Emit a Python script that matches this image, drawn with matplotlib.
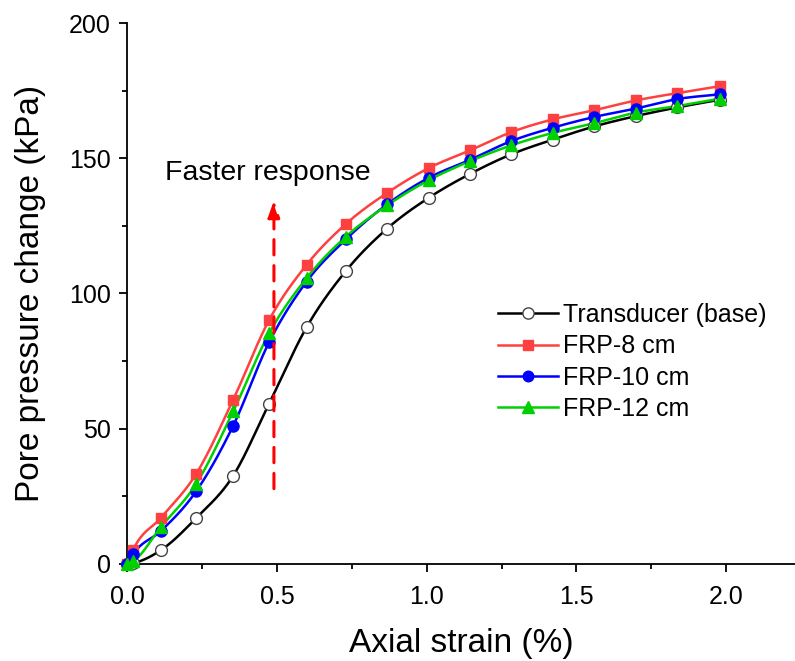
import matplotlib
matplotlib.use("Agg")
import matplotlib.pyplot as plt
from matplotlib.ticker import MultipleLocator
import numpy as np

plt.rcParams["font.family"] = ["Liberation Sans", "DejaVu Sans"]

# Axial strain (%) at each measured point
strain = [0.0, 0.02, 0.113, 0.23, 0.354, 0.474, 0.599, 0.73, 0.868, 1.007,
          1.146, 1.283, 1.421, 1.56, 1.698, 1.836, 1.98]

# Pore pressure change (kPa)
transducer = [0.0, 0.3, 5.1, 16.9, 32.6, 59.3, 87.5, 108.3, 124.0, 135.4,
              144.3, 151.5, 156.9, 161.8, 165.6, 168.8, 171.7]
frp_8 = [0.0, 5.2, 17.1, 33.2, 60.7, 90.2, 110.6, 125.7, 137.2, 146.4,
         153.0, 159.7, 164.4, 167.8, 171.4, 174.1, 176.7]
frp_10 = [0.0, 3.6, 12.2, 26.8, 51.1, 82.0, 104.4, 120.0, 133.0, 142.8,
          149.5, 156.4, 161.3, 165.3, 168.4, 171.9, 173.7]
frp_12 = [0.0, 1.0, 13.7, 29.5, 56.4, 85.3, 105.7, 121.0, 132.6, 141.9,
          149.0, 154.8, 159.4, 163.0, 166.9, 169.3, 172.1]

labels = ["Transducer (base)", "FRP-8 cm", "FRP-10 cm", "FRP-12 cm"]


def smooth(x, y, n=24):
    """Cubic Hermite curve through the points (drawing only)."""
    x = np.asarray(x, float)
    y = np.asarray(y, float)
    m = np.gradient(y, x)
    xs, ys = [], []
    t = np.linspace(0, 1, n, endpoint=False)
    h00 = 2 * t**3 - 3 * t**2 + 1
    h10 = t**3 - 2 * t**2 + t
    h01 = -2 * t**3 + 3 * t**2
    h11 = t**3 - t**2
    for i in range(len(x) - 1):
        h = x[i + 1] - x[i]
        xs.append(x[i] + t * h)
        ys.append(h00 * y[i] + h10 * h * m[i] + h01 * y[i + 1] + h11 * h * m[i + 1])
    xs.append([x[-1]])
    ys.append([y[-1]])
    return np.concatenate(xs), np.concatenate(ys)


fig = plt.figure(figsize=(7.95, 6.61), dpi=100)
ax = fig.add_axes([0.16, 0.147, 0.84, 0.818])

styles = [
    dict(color="black", marker="o", mfc="white", mec="#444444", ms=8.5),
    dict(color="#ff4040", marker="s", mfc="#ff4040", mec="#ff4040", ms=7),
    dict(color="#0000ff", marker="o", mfc="#0000ff", mec="#0000ff", ms=8),
    dict(color="#00d000", marker="^", mfc="#00d000", mec="#00d000", ms=8.5),
]

for yv, lab, st in zip([transducer, frp_8, frp_10, frp_12], labels, styles):
    sx, sy = smooth(strain, yv)
    ax.plot(sx, sy, color=st["color"], lw=1.8, zorder=2)
    ax.plot(strain, yv, ls="none", marker=st["marker"], mfc=st["mfc"],
            mec=st["mec"], ms=st["ms"], mew=1.0, zorder=3, clip_on=False)
    # legend proxy
    ax.plot([], [], color=st["color"], lw=1.8, marker=st["marker"],
            mfc=st["mfc"], mec=st["mec"], ms=st["ms"] * 0.95, label=lab)

# "Faster response" arrow
ax.annotate("", xy=(0.49, 134.5), xytext=(0.49, 27.8),
            arrowprops=dict(arrowstyle="-|>,head_length=1.0,head_width=0.35",
                            color="#ff0000", lw=2.2, ls=(0, (5, 3.5)),
                            shrinkA=0, shrinkB=0))
ax.text(0.468, 144.4, "Faster response", fontsize=20.5, ha="center", va="center")

ax.set_xlim(0, 2.23)
ax.set_ylim(0, 200)
ax.xaxis.set_major_locator(MultipleLocator(0.5))
ax.xaxis.set_minor_locator(MultipleLocator(0.25))
ax.yaxis.set_major_locator(MultipleLocator(50))
ax.yaxis.set_minor_locator(MultipleLocator(25))
ax.xaxis.set_major_formatter(plt.FormatStrFormatter("%.1f"))

for s in ["top", "right"]:
    ax.spines[s].set_visible(False)
for s in ["left", "bottom"]:
    ax.spines[s].set_linewidth(1.3)
ax.tick_params(which="major", direction="out", length=6, width=1.3,
               labelsize=18, pad=6)
ax.tick_params(axis="x", which="major", pad=9)
ax.tick_params(which="minor", direction="out", length=3.5, width=1.3)

ax.set_xlabel("Axial strain (%)", fontsize=24, labelpad=14)
ax.set_ylabel("Pore pressure change (kPa)", fontsize=24, labelpad=16)

ax.legend(loc="upper left", bbox_to_anchor=(0.525, 0.519), frameon=False,
          fontsize=18, handlelength=2.4, handletextpad=0.2, labelspacing=0.29,
          borderpad=0.3)

fig.savefig("out.png", dpi=100)
